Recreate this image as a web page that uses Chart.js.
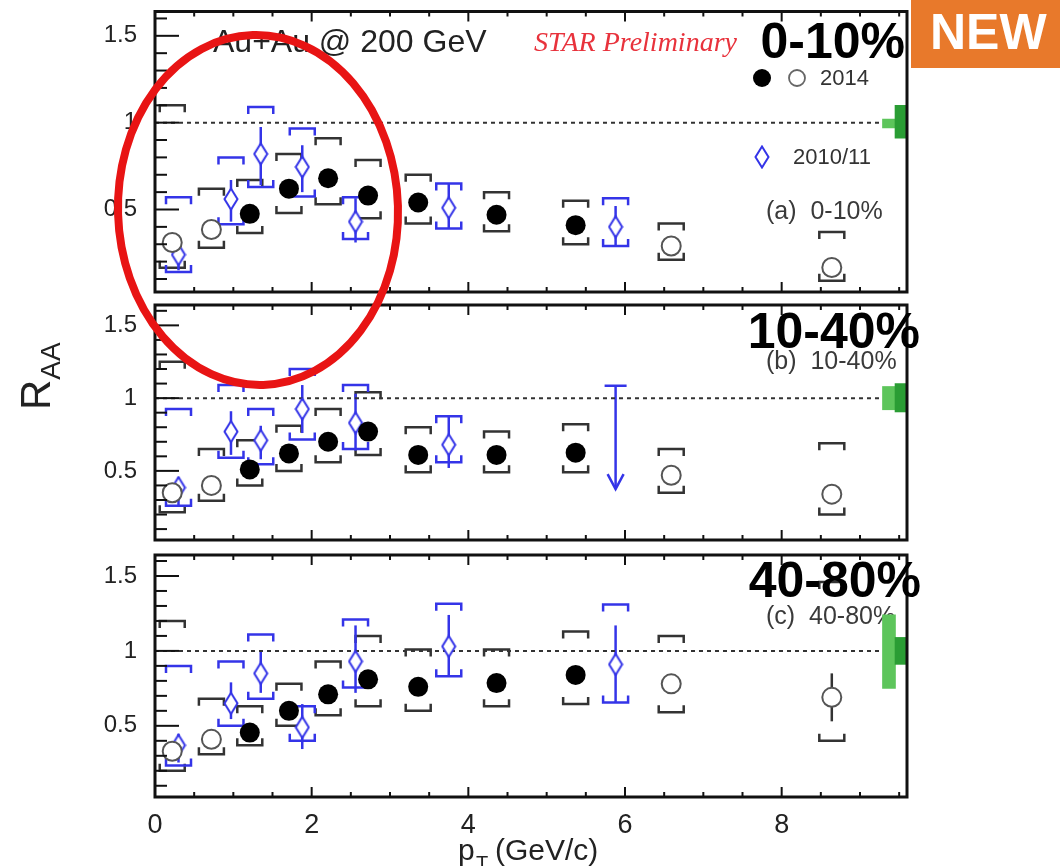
<!DOCTYPE html>
<html>
<head>
<meta charset="utf-8">
<title>R_AA vs pT, Au+Au 200 GeV</title>
<script src="https://cdn.jsdelivr.net/npm/chart.js@4.4.1/dist/chart.umd.min.js"></script>
<style>
  html, body { margin: 0; padding: 0; background: #fff; }
  #wrap { position: relative; width: 1060px; height: 866px; overflow: hidden; }
  #wrap canvas { position: absolute; left: 0; top: 0; }
</style>
</head>
<body>
<div id="wrap">
  <canvas id="panelC" width="1060" height="866"></canvas>
  <canvas id="panelB" width="1060" height="866"></canvas>
  <canvas id="panelA" width="1060" height="866"></canvas>
</div>
<script>
// pT bin centres (GeV/c)
const pt2014 = [0.22, 0.72, 1.21, 1.71, 2.21, 2.72, 3.36, 4.36, 5.37, 6.59, 8.64];
const openBins2014 = [0, 1, 9, 10];            // bins drawn with open circles
const pt2010 = [0.30, 0.97, 1.35, 1.88, 2.56, 3.75, 5.88];

// axis labels
const xLabels = [0, 2, 4, 6, 8];
const yLabels = [0.5, 1, 1.5];
const unity = 1;

// global uncertainty boxes at R_AA = 1: [low, high]
const ncollBox_0010 = [0.97, 1.02];
const normBox_0010  = [0.91, 1.10];
const ncollBox_1040 = [0.92, 1.08];
const normBox_1040  = [0.905, 1.10];
const ncollBox_4080 = [0.75, 1.24];
const normBox_4080  = [0.91, 1.09];
const ncollPt = 9.37, normPt = 9.53;

// 0-10%
const raa2014_0010   = [0.31, 0.385, 0.475, 0.62, 0.68, 0.58, 0.54, 0.47, 0.41, 0.29, 0.166];
const sysHi2014_0010 = [1.10, 0.62, 0.67, 0.82, 0.91, 0.785, 0.70, 0.60, 0.55, 0.42, 0.37];
const sysLo2014_0010 = [0.165, 0.28, 0.365, 0.48, 0.53, 0.45, 0.42, 0.375, 0.30, 0.21, 0.09];
const stat2014_0010  = [0.01, 0.01, 0.01, 0.01, 0.01, 0.015, 0.015, 0.02, 0.03, 0.04, 0.05];
const raa2010_0010    = [0.24, 0.56, 0.82, 0.745, 0.43, 0.51, 0.40];
const sysHi2010_0010  = [0.57, 0.80, 1.09, 0.966, 0.57, 0.65, 0.565];
const sysLo2010_0010  = [0.14, 0.415, 0.63, 0.575, 0.33, 0.39, 0.29];
const statHi2010_0010 = [0.30, 0.67, 0.975, 0.87, 0.565, 0.65, 0.52];
const statLo2010_0010 = [0.15, 0.43, 0.64, 0.60, 0.31, 0.39, 0.29];

// 10-40%
const raa2014_1040   = [0.35, 0.40, 0.51, 0.62, 0.70, 0.77, 0.61, 0.61, 0.625, 0.47, 0.34];
const sysHi2014_1040 = [1.25, 0.65, 0.71, 0.81, 0.925, 1.04, 0.80, 0.77, 0.82, 0.65, 0.69];
const sysLo2014_1040 = [0.215, 0.295, 0.40, 0.50, 0.56, 0.61, 0.49, 0.49, 0.49, 0.35, 0.20];
const stat2014_1040  = [0.01, 0.01, 0.01, 0.01, 0.01, 0.015, 0.015, 0.02, 0.03, 0.04, 0.05];
const raa2010_1040    = [0.385, 0.77, 0.71, 0.925, 0.83, 0.68, null];
const sysHi2010_1040  = [0.925, 1.09, 0.925, 1.20, 1.09, 0.875, null];
const sysLo2010_1040  = [0.26, 0.59, 0.545, 0.715, 0.65, 0.56, null];
const statHi2010_1040 = [0.455, 0.91, 0.81, 1.09, 1.03, 0.875, null];
const statLo2010_1040 = [0.26, 0.61, 0.58, 0.76, 0.64, 0.52, null];
// 2010/11 upper limit at 5.88 GeV/c
const limitPt_1040 = [5.88];
const limitHi_1040 = [1.085];
const limitLo_1040 = [0.375];

// 40-80%
const raa2014_4080   = [0.33, 0.41, 0.455, 0.60, 0.71, 0.81, 0.76, 0.785, 0.84, 0.78, 0.69];
const sysHi2014_4080 = [1.20, 0.68, 0.63, 0.78, 0.93, 1.10, 1.01, 1.01, 1.13, 1.10, 1.46];
const sysLo2014_4080 = [0.20, 0.31, 0.37, 0.50, 0.57, 0.63, 0.60, 0.63, 0.645, 0.59, 0.40];
const stat2014_4080  = [0.01, 0.01, 0.01, 0.01, 0.01, 0.015, 0.015, 0.02, 0.03, 0.05, 0.16];
const raa2010_4080    = [0.37, 0.65, 0.85, 0.49, 0.93, 1.03, 0.91];
const sysHi2010_4080  = [0.90, 0.93, 1.11, 0.63, 1.21, 1.315, 1.31];
const sysLo2010_4080  = [0.235, 0.50, 0.68, 0.40, 0.755, 0.83, 0.655];
const statHi2010_4080 = [0.445, 0.79, 1.0, 0.645, 1.17, 1.24, 1.17];
const statLo2010_4080 = [0.255, 0.545, 0.72, 0.345, 0.72, 0.83, 0.655];

const F = '"Liberation Sans", Arial, Helvetica, sans-serif';
const GREY = '#333';
const BLUE = '#3434e8';
const X_MIN = 0, X_MAX = 9.6, Y_MIN = 0.025, Y_MAX = 1.64;
const FRAME_LEFT = 155, FRAME_RIGHT = 907, PAGE_W = 1060, PAGE_H = 866;

// tall open diamond used for the 2010/11 points
function makeDiamond() {
  const c = document.createElement('canvas');
  c.width = 16; c.height = 24;
  const g = c.getContext('2d');
  g.beginPath();
  g.moveTo(8, 1.5); g.lineTo(14.5, 12); g.lineTo(8, 22.5); g.lineTo(1.5, 12);
  g.closePath();
  g.fillStyle = '#fff'; g.fill();
  g.lineWidth = 2; g.strokeStyle = BLUE; g.stroke();
  return c;
}
const diamondImg = makeDiamond();

function line(ctx, x1, y1, x2, y2) {
  ctx.beginPath(); ctx.moveTo(x1, y1); ctx.lineTo(x2, y2); ctx.stroke();
}

// systematic bracket: dir=+1 for upper (ends point down), -1 for lower
function bracket(ctx, xp, yp, dir) {
  const hw = 12.5, t = 7;
  ctx.beginPath();
  ctx.moveTo(xp - hw, yp + dir * t);
  ctx.lineTo(xp - hw, yp);
  ctx.lineTo(xp + hw, yp);
  ctx.lineTo(xp + hw, yp + dir * t);
  ctx.stroke();
}

function text(ctx, str, x, y, font, color, align, base) {
  ctx.font = font;
  ctx.fillStyle = color;
  ctx.textAlign = align || 'left';
  ctx.textBaseline = base || 'alphabetic';
  ctx.fillText(str, x, y);
}

function drawHeader(ctx) {
  text(ctx, 'Au+Au @ 200 GeV', 213, 52, `32px ${F}`, '#222');
  text(ctx, 'STAR Preliminary', 534, 51, `italic 28px "Liberation Serif", "Times New Roman", serif`, '#e8323c');

  // legend
  ctx.fillStyle = '#000';
  ctx.beginPath(); ctx.arc(762, 78, 9, 0, Math.PI * 2); ctx.fill();
  ctx.strokeStyle = '#666'; ctx.lineWidth = 1.8;
  ctx.beginPath(); ctx.arc(797, 78, 8, 0, Math.PI * 2); ctx.stroke();
  text(ctx, '2014', 820, 79, `22px ${F}`, '#333', 'left', 'middle');
  ctx.drawImage(diamondImg, 762 - 8, 157 - 12);
  text(ctx, '2010/11', 793, 158, `22px ${F}`, '#333', 'left', 'middle');

  // NEW badge
  ctx.fillStyle = '#e8792b';
  ctx.fillRect(911, 0, 149, 68);
  text(ctx, 'NEW', 930, 49, `bold 50px ${F}`, '#fff');

  // red highlight ellipse
  ctx.save();
  ctx.strokeStyle = '#e81414';
  ctx.lineWidth = 8;
  ctx.beginPath();
  ctx.ellipse(258, 210, 140, 175, -0.03, 0, Math.PI * 2);
  ctx.stroke();
  ctx.restore();
}

function drawPageTitles(ctx) {
  // x title: p_T (GeV/c)
  text(ctx, 'p', 458, 860, `30px ${F}`, '#222');
  text(ctx, 'T', 476, 870, `20px ${F}`, '#222');
  text(ctx, '(GeV/c)', 495, 860, `30px ${F}`, '#222');

  // y title: R_AA, rotated
  ctx.save();
  ctx.translate(50, 410);
  ctx.rotate(-Math.PI / 2);
  ctx.font = `42px ${F}`;
  ctx.fillStyle = '#222';
  ctx.textAlign = 'left';
  ctx.textBaseline = 'alphabetic';
  ctx.fillText('R', 0, 0);
  const w = ctx.measureText('R').width;
  ctx.font = `28px ${F}`;
  ctx.fillText('AA', w, 10);
  ctx.restore();
}

const panels = [
  {
    canvas: 'panelA', top: 8, bottom: 292,
    raa14: raa2014_0010, sysHi14: sysHi2014_0010, sysLo14: sysLo2014_0010, stat14: stat2014_0010,
    raa10: raa2010_0010, sysHi10: sysHi2010_0010, sysLo10: sysLo2010_0010,
    statHi10: statHi2010_0010, statLo10: statLo2010_0010,
    ncoll: ncollBox_0010, norm: normBox_0010,
    tag: '0-10%', tagRight: 905, tagBase: 58, sub: '(a)  0-10%', subY: 212,
    extra: drawHeader
  },
  {
    canvas: 'panelB', top: 305, bottom: 540,
    raa14: raa2014_1040, sysHi14: sysHi2014_1040, sysLo14: sysLo2014_1040, stat14: stat2014_1040,
    raa10: raa2010_1040, sysHi10: sysHi2010_1040, sysLo10: sysLo2010_1040,
    statHi10: statHi2010_1040, statLo10: statLo2010_1040,
    limitPt: limitPt_1040, limitHi: limitHi_1040, limitLo: limitLo_1040,
    ncoll: ncollBox_1040, norm: normBox_1040,
    tag: '10-40%', tagRight: 920, tagBase: 348, sub: '(b)  10-40%', subY: 362
  },
  {
    canvas: 'panelC', top: 555, bottom: 797, showX: true,
    raa14: raa2014_4080, sysHi14: sysHi2014_4080, sysLo14: sysLo2014_4080, stat14: stat2014_4080,
    raa10: raa2010_4080, sysHi10: sysHi2010_4080, sysLo10: sysLo2010_4080,
    statHi10: statHi2010_4080, statLo10: statLo2010_4080,
    ncoll: ncollBox_4080, norm: normBox_4080,
    tag: '40-80%', tagRight: 921, tagBase: 597, sub: '(c)  40-80%', subY: 617,
    extra: drawPageTitles
  }
];

function panelPlugin(p) {
  return {
    id: 'panelDecor',
    beforeDatasetsDraw(chart) {
      const { ctx, scales: { x, y } } = chart;
      ctx.save();

      // small centrality label sits under the uncertainty boxes
      text(ctx, p.sub, 766, p.subY, `25px ${F}`, '#3a3a3a', 'left', 'middle');

      ctx.lineWidth = 2.5;

      // 2014: brackets + stat bars
      ctx.strokeStyle = GREY;
      pt2014.forEach((pt, i) => {
        const xp = x.getPixelForValue(pt);
        bracket(ctx, xp, y.getPixelForValue(p.sysHi14[i]), 1);
        bracket(ctx, xp, y.getPixelForValue(p.sysLo14[i]), -1);
        line(ctx, xp, y.getPixelForValue(p.raa14[i] - p.stat14[i]), xp, y.getPixelForValue(p.raa14[i] + p.stat14[i]));
      });

      // 2010/11
      ctx.strokeStyle = BLUE;
      pt2010.forEach((pt, i) => {
        if (p.raa10[i] === null) return;
        const xp = x.getPixelForValue(pt);
        bracket(ctx, xp, y.getPixelForValue(p.sysHi10[i]), 1);
        bracket(ctx, xp, y.getPixelForValue(p.sysLo10[i]), -1);
        line(ctx, xp, y.getPixelForValue(p.statLo10[i]), xp, y.getPixelForValue(p.statHi10[i]));
      });

      // upper limits
      (p.limitPt || []).forEach((pt, i) => {
        const xp = x.getPixelForValue(pt);
        const yh = y.getPixelForValue(p.limitHi[i]);
        const yl = y.getPixelForValue(p.limitLo[i]);
        line(ctx, xp - 11, yh, xp + 11, yh);
        line(ctx, xp, yh, xp, yl);
        ctx.beginPath();
        ctx.moveTo(xp - 8, yl - 15); ctx.lineTo(xp, yl); ctx.lineTo(xp + 8, yl - 15);
        ctx.stroke();
      });
      ctx.restore();
    },
    afterDraw(chart) {
      const { ctx, chartArea: a, scales: { x, y } } = chart;
      ctx.save();

      // tick marks on bottom/top and left
      ctx.strokeStyle = '#111';
      ctx.lineWidth = 2;
      for (let k = 0; k <= 19; k++) {
        const xp = x.getPixelForValue(k * 0.5);
        const len = k % 4 === 0 ? 10 : 5;
        line(ctx, xp, a.bottom, xp, a.bottom - len);
        line(ctx, xp, a.top, xp, a.top + len);
      }
      for (let k = 1; k <= 16; k++) {
        const yp = y.getPixelForValue(k / 10);
        const len = k % 5 === 0 ? 24 : 12;
        line(ctx, a.left, yp, a.left + len, yp);
      }

      // frame
      ctx.lineWidth = 3;
      ctx.strokeRect(a.left, a.top, a.right - a.left, a.bottom - a.top);

      // big centrality tag
      text(ctx, p.tag, p.tagRight, p.tagBase, `bold 50px ${F}`, '#000', 'right');

      if (p.extra) p.extra(ctx);
      ctx.restore();
    }
  };
}

function buildDatasets(p) {
  const filled = [], open = [];
  pt2014.forEach((pt, i) => {
    (openBins2014.includes(i) ? open : filled).push({ x: pt, y: p.raa14[i] });
  });
  const diamonds = pt2010
    .map((pt, i) => ({ x: pt, y: p.raa10[i] }))
    .filter(d => d.y !== null);

  return [
    { type: 'scatter', data: filled, pointRadius: 10, pointBackgroundColor: '#000',
      pointBorderWidth: 0, order: 1 },
    { type: 'scatter', data: open, pointRadius: 9.5, pointBackgroundColor: '#fff',
      pointBorderColor: '#555', pointBorderWidth: 2, order: 2 },
    { type: 'scatter', data: diamonds, pointStyle: diamondImg, order: 3 },
    { type: 'bar', data: [{ x: normPt, y: p.norm }], backgroundColor: '#2a9d34',
      barThickness: 13, grouped: false, borderWidth: 0, order: 4 },
    { type: 'bar', data: [{ x: ncollPt, y: p.ncoll }], backgroundColor: '#5dc55b',
      barThickness: 13, grouped: false, borderWidth: 0, order: 5 },
    { type: 'line', data: [{ x: X_MIN, y: unity }, { x: X_MAX, y: unity }],
      borderColor: '#333', borderWidth: 2, borderDash: [4, 4], pointRadius: 0, order: 6 }
  ];
}

panels.forEach(p => {
  new Chart(document.getElementById(p.canvas), {
    type: 'scatter',
    data: { datasets: buildDatasets(p) },
    options: {
      responsive: false,
      animation: false,
      events: [],
      layout: {
        padding: {
          left: 0,
          right: PAGE_W - FRAME_RIGHT,
          top: p.top,
          bottom: p.showX ? 0 : PAGE_H - p.bottom
        }
      },
      plugins: { legend: { display: false }, tooltip: { enabled: false } },
      scales: {
        x: {
          type: 'linear', min: X_MIN, max: X_MAX, offset: false,
          display: !!p.showX,
          grid: { display: false, drawTicks: false, offset: false },
          border: { display: false },
          afterBuildTicks: s => { s.ticks = xLabels.map(v => ({ value: v })); },
          afterFit: s => {
            if (p.showX) s.height = PAGE_H - p.bottom;
            s.paddingLeft = 0; s.paddingRight = 0;
          },
          ticks: { font: { family: F, size: 27 }, color: '#222', padding: 12,
                   maxRotation: 0, autoSkip: false, callback: v => String(v) }
        },
        y: {
          type: 'linear', min: Y_MIN, max: Y_MAX,
          grid: { display: false, drawTicks: false },
          border: { display: false },
          afterBuildTicks: s => { s.ticks = yLabels.map(v => ({ value: v })); },
          afterFit: s => {
            s.width = FRAME_LEFT;
            s.paddingTop = 0; s.paddingBottom = 0;
          },
          ticks: { font: { family: F, size: 24 }, color: '#222', padding: 18,
                   callback: v => String(v) }
        }
      }
    },
    plugins: [panelPlugin(p)]
  });
});
</script>
</body>
</html>
